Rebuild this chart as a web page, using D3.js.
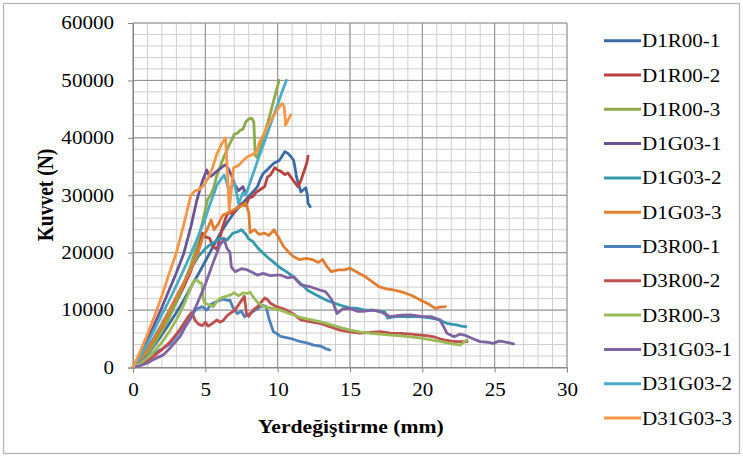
<!DOCTYPE html>
<html>
<head>
<meta charset="utf-8">
<script src="https://cdn.jsdelivr.net/npm/d3@7"></script>
<style>
  body { margin: 0; background: #fff; }
</style>
</head>
<body>
<div id="chart"></div>
<script>
// data: [yerdegistirme mm, kuvvet N]
var seriesNames = ["D1R00-1", "D1R00-2", "D1R00-3", "D1G03-1", "D1G03-2", "D1G03-3",
                   "D3R00-1", "D3R00-2", "D3R00-3", "D31G03-1", "D31G03-2", "D31G03-3"];

var d1r00_1 = [[0,0],[0.5,900],[1,2300],[1.5,3900],[2,5700],[2.5,7600],[3,9600],[3.5,11700],[4,14000],[4.5,16200],[5,18500],[5.5,20900],[6,23200],[6.5,25200],[7,27000],[7.5,28400],[8,29800],[8.3,30600],[8.6,31500],[8.8,32800],[9,33800],[9.3,34500],[9.5,35000],[9.7,35500],[9.9,35800],[10.1,36000],[10.3,36800],[10.5,37600],[10.7,37300],[10.9,36800],[11.1,36100],[11.2,34800],[11.3,33200],[11.5,31500],[11.6,30600],[11.8,31000],[11.95,31300],[12.05,30000],[12.1,28600],[12.25,28000]];
var d1r00_2 = [[0,0],[0.5,1100],[1,2700],[1.5,4600],[2,6700],[2.5,9000],[3,11400],[3.5,14000],[4,16800],[4.3,19200],[4.6,22000],[4.8,23400],[5.0,22800],[5.3,22500],[5.5,21200],[5.8,20500],[6.0,22500],[6.2,24500],[6.4,26000],[6.6,27000],[6.9,26800],[7.2,27800],[7.5,28500],[7.8,28200],[8.0,29500],[8.3,29800],[8.5,30500],[8.8,31000],[9.1,31500],[9.3,33200],[9.5,33500],[9.8,34800],[10.0,34400],[10.2,34200],[10.5,33600],[10.7,33900],[10.9,33200],[11.1,32500],[11.4,31500],[11.6,32500],[11.8,34000],[12.0,35500],[12.1,36800]];
var d1r00_3 = [[0,0],[0.5,1000],[1,2400],[1.5,4200],[2,6300],[2.5,8700],[3,11400],[3.5,14500],[4,17800],[4.4,21200],[4.8,25300],[5.15,29200],[5.4,30200],[5.6,31500],[5.8,33500],[6.1,35500],[6.3,36800],[6.6,38500],[6.8,39500],[7.0,40600],[7.2,40800],[7.4,41300],[7.6,41500],[7.8,42800],[8.0,43300],[8.2,43400],[8.35,42800],[8.45,37000],[8.6,36500],[8.8,38200],[9.0,40000],[9.3,42500],[9.5,44300],[9.8,47200],[10.1,50000]];
var d1g03_1 = [[0,0],[0.5,1900],[1,4800],[1.5,7600],[2,10500],[2.5,13500],[3,16500],[3.5,19800],[4,24500],[4.4,29000],[4.8,32500],[5.1,34400],[5.3,33200],[5.5,33500],[5.7,34000],[5.9,34400],[6.2,35000],[6.4,35300],[6.6,34600],[6.8,33500],[7.0,32000],[7.3,30800],[7.6,31500],[7.8,30200]];
var d1g03_2 = [[0,0],[0.5,1400],[1,3300],[1.5,5400],[2,7600],[2.5,9900],[3,12300],[3.5,14700],[4,17200],[4.5,19300],[5,20700],[5.3,21300],[5.6,21800],[5.9,22300],[6.25,22500],[6.5,22200],[6.9,23400],[7.2,23600],[7.5,24000],[7.8,23200],[8.0,22400],[8.3,21900],[8.6,20900],[9.0,19900],[9.3,19200],[9.7,18400],[10.1,17500],[10.6,16700],[11.1,15800],[11.6,14600],[12.1,13400],[12.7,12600],[13.3,11800],[13.9,11200],[14.4,10800],[15.0,10400],[15.5,10300],[16.0,10000],[16.5,10000],[17.1,9800],[17.4,9700],[17.6,8600],[18.0,8800],[18.5,8900],[19.0,8800],[19.5,8900],[19.9,8800],[20.4,8700],[20.8,8500],[21.2,8300],[21.5,7900],[21.7,7700],[22.1,7500],[22.4,7400],[22.7,7200],[23.0,7100]];
var d1g03_3 = [[0,0],[0.5,1300],[1,3100],[1.5,5200],[2,7400],[2.5,9800],[3,12300],[3.5,14700],[4,17100],[4.5,20000],[4.8,22500],[5.1,23900],[5.4,25700],[5.6,24000],[5.9,25000],[6.2,26500],[6.6,27000],[7.0,27500],[7.4,28000],[7.8,28600],[8.0,27000],[8.1,23500],[8.4,24000],[8.7,23200],[9.1,23400],[9.4,23000],[9.75,24000],[10.1,22500],[10.4,21100],[10.8,20000],[11.1,19300],[11.5,18800],[12.0,19000],[12.4,18800],[12.8,18300],[13.1,18800],[13.4,17600],[13.7,16700],[14.2,17000],[14.6,17000],[15.0,17300],[15.5,16600],[16.0,15900],[16.5,15000],[17.0,14100],[17.5,13700],[18.0,13500],[18.5,13200],[18.9,12900],[19.3,12500],[19.6,12100],[20.0,11600],[20.4,11100],[20.9,10300],[21.2,10500],[21.6,10600]];
var d3r00_1 = [[0,0],[0.4,600],[0.8,1500],[1.2,2300],[1.6,2700],[2.0,3200],[2.5,4000],[3.0,5500],[3.5,7300],[4.0,9000],[4.4,10200],[4.8,10600],[5.1,10000],[5.4,11000],[5.8,11500],[6.2,11900],[6.5,11700],[6.7,11750],[6.9,10500],[7.2,9400],[7.5,9800],[7.7,8850],[8.0,9300],[8.4,9900],[8.7,10400],[9.0,10800],[9.2,10600],[9.4,8500],[9.7,6250],[10.0,5800],[10.2,5400],[10.6,5200],[11.0,5000],[11.3,4700],[11.6,4500],[12.0,4300],[12.5,3900],[13.0,3700],[13.3,3300],[13.6,3050]];
var d3r00_2 = [[0,0],[0.5,500],[1,1200],[1.5,2100],[2,3100],[2.5,4300],[3,5800],[3.5,7600],[3.8,8800],[4.06,9600],[4.3,8200],[4.5,7600],[4.8,7300],[5.0,7900],[5.2,7200],[5.5,7700],[5.8,8300],[6.0,7900],[6.2,8100],[6.5,9000],[6.7,9400],[7.05,10000],[7.4,11300],[7.7,12400],[7.85,9300],[8.0,8900],[8.3,10000],[8.6,10600],[8.8,11200],[9.1,12100],[9.3,11800],[9.5,11200],[9.9,10600],[10.3,10300],[10.6,10000],[11.1,9300],[11.6,8300],[12.2,8000],[12.9,7700],[13.6,7100],[14.3,6500],[15.0,6200],[15.7,6000],[16.4,6100],[17.1,6250],[17.8,6000],[18.5,5950],[19.2,5800],[19.9,5650],[20.4,5500],[20.8,5350],[21.2,5000],[21.5,4800],[22.0,4600],[22.4,4500],[23.1,4500]];
var d3r00_3 = [[0,0],[0.5,700],[1,1700],[1.5,2900],[2,4400],[2.5,6200],[3,8300],[3.5,10800],[3.9,13300],[4.2,15000],[4.4,15300],[4.6,14800],[4.75,14700],[4.85,12000],[4.95,11200],[5.2,11000],[5.55,10600],[5.8,11500],[6.0,12000],[6.3,12300],[6.7,12600],[7.0,13000],[7.3,12500],[7.6,13000],[7.9,12900],[8.1,13100],[8.3,12300],[8.6,11400],[9.0,10600],[9.5,10400],[10.2,10000],[10.8,9400],[11.6,8700],[12.2,8400],[12.9,8000],[13.6,7500],[14.3,7000],[15.0,6500],[15.7,6200],[16.4,5950],[17.1,5800],[17.8,5650],[18.5,5500],[19.2,5350],[19.9,5100],[20.6,4800],[21.3,4500],[21.9,4200],[22.6,3900],[23.1,4800]];
var d31g03_1 = [[0,0],[0.5,300],[1,800],[1.5,1500],[2.1,2200],[2.6,3500],[3.25,5400],[3.6,7000],[4.06,8900],[4.5,11500],[5,14500],[5.5,18000],[6.0,21300],[6.3,22300],[6.5,20700],[6.7,20100],[6.8,17500],[7.06,16700],[7.5,17200],[7.9,17000],[8.3,16500],[8.6,16100],[9,16400],[9.5,16000],[9.9,16100],[10.2,16100],[10.7,15600],[11.1,15800],[11.6,14400],[12.2,14100],[12.9,13500],[13.3,13200],[13.6,12300],[13.8,11500],[14.1,9400],[14.5,10200],[15,10300],[15.5,9800],[16,9800],[16.6,10000],[17.1,9700],[17.8,8850],[18.5,9100],[19.2,9150],[19.9,8900],[20.6,8850],[21.2,8300],[21.5,7000],[21.7,5950],[22.2,5350],[22.6,5800],[22.9,5650],[23.5,5000],[24,4500],[24.5,4400],[24.9,4200],[25.3,4600],[25.6,4500],[26.0,4300],[26.3,4100]];
var d31g03_2 = [[0,0],[0.5,1900],[1,4200],[1.5,6700],[2,9200],[2.5,11700],[3,14300],[3.5,17000],[4,19800],[4.5,22800],[5,26000],[5.3,28300],[5.6,30300],[5.8,31800],[6.0,32500],[6.3,33500],[6.45,32500],[6.6,31000],[6.8,31500],[7.0,32000],[7.15,30500],[7.3,28500],[7.45,29500],[7.6,30500],[7.75,30000],[7.9,30800],[8.2,33000],[8.5,35200],[9.0,38700],[9.5,42300],[10.0,45800],[10.3,48000],[10.6,50000]];
var d31g03_3 = [[0,0],[0.5,2800],[1,5800],[1.5,9000],[2,12500],[2.56,16800],[3,20000],[3.5,24800],[4.0,30000],[4.3,30800],[4.6,31000],[4.9,31800],[5.2,33000],[5.5,34800],[5.8,37200],[6.1,38800],[6.4,40000],[6.55,33000],[6.65,27500],[6.8,31000],[6.95,34800],[7.3,35200],[7.6,36000],[7.9,36700],[8.2,37000],[8.5,37500],[8.8,39500],[9.1,41000],[9.4,42500],[9.7,43800],[10.0,45000],[10.3,46000],[10.45,45500],[10.55,42200],[10.7,43000],[10.9,44000]];

var seriesData = [d1r00_1, d1r00_2, d1r00_3, d1g03_1, d1g03_2, d1g03_3,
                  d3r00_1, d3r00_2, d3r00_3, d31g03_1, d31g03_2, d31g03_3];

var xTicks = [0, 5, 10, 15, 20, 25, 30];
var yTicks = [0, 10000, 20000, 30000, 40000, 50000, 60000];

// styles
var colors = ["#3C6BA4", "#B8423F", "#8DAA4C", "#6C5392", "#3598AD", "#E07E31",
              "#4F81BD", "#C0504D", "#9BBB59", "#8064A2", "#4BACC6", "#F79646"];
var serif = "Liberation Serif"; // one name only
var stretch = 1.17; // the picture is a bit wider than tall

// widen a text by stretching its glyphs (no transform)
function widen(sel) {
    sel.each(function() {
        var w = this.getComputedTextLength();
        d3.select(this).attr("textLength", w * stretch).attr("lengthAdjust", "spacingAndGlyphs");
    });
}

var svgWidth = 743, svgHeight = 457;
var svg = d3.select("#chart").append("svg")
    .attr("width", svgWidth)
    .attr("height", svgHeight)
    .attr("font-family", serif);

svg.append("rect")
    .attr("x", 3.5).attr("y", 3.5)
    .attr("width", 736).attr("height", 450)
    .attr("fill", "#fff")
    .attr("stroke", "#b4b4b4")
    .attr("stroke-width", 1.2);

var x = d3.scaleLinear().domain([0, 30]).range([133, 567]);
var y = d3.scaleLinear().domain([0, 60000]).range([367.5, 23]);

// gridlines
var grid = svg.append("g");
grid.selectAll("line.minx").data(d3.range(0, 31, 1)).enter().append("line")
    .attr("x1", d => x(d)).attr("x2", d => x(d))
    .attr("y1", y(0)).attr("y2", y(60000))
    .attr("stroke", "#cfcfcf").attr("stroke-width", 1);
grid.selectAll("line.miny").data(d3.range(0, 60001, 2000)).enter().append("line")
    .attr("y1", d => y(d)).attr("y2", d => y(d))
    .attr("x1", x(0)).attr("x2", x(30))
    .attr("stroke", "#cfcfcf").attr("stroke-width", 1);
grid.selectAll("line.majx").data(xTicks).enter().append("line")
    .attr("x1", d => x(d)).attr("x2", d => x(d))
    .attr("y1", y(0)).attr("y2", y(60000))
    .attr("stroke", "#8e8e8e").attr("stroke-width", 1);
grid.selectAll("line.majy").data(yTicks).enter().append("line")
    .attr("y1", d => y(d)).attr("y2", d => y(d))
    .attr("x1", x(0)).attr("x2", x(30))
    .attr("stroke", "#8e8e8e").attr("stroke-width", 1);

// axes
var xAxis = svg.append("g")
    .attr("transform", `translate(0, ${y(0)})`)
    .call(d3.axisBottom(x).tickValues(xTicks).tickSize(5).tickPadding(11));
var yAxis = svg.append("g")
    .attr("transform", `translate(${x(0)}, 0)`)
    .call(d3.axisLeft(y).tickValues(yTicks).tickSize(5).tickPadding(14).tickFormat(d3.format("d")));

[xAxis, yAxis].forEach(function(ax) {
    ax.attr("font-family", serif).attr("font-size", 18);
    ax.select(".domain").attr("stroke", "#868686");
    ax.selectAll(".tick line").attr("stroke", "#868686");
    ax.selectAll("text").attr("fill", "#000").attr("font-family", serif).call(widen);
});

// lines
var line = d3.line().x(d => x(d[0])).y(d => y(d[1]));
svg.append("g").selectAll("path").data(seriesData).enter().append("path")
    .attr("d", line)
    .attr("fill", "none")
    .attr("stroke", (d, i) => colors[i])
    .attr("stroke-width", 2.8)
    .attr("stroke-linejoin", "round")
    .attr("stroke-linecap", "round");

// axis titles
svg.append("text")
    .attr("x", 351).attr("y", 433)
    .attr("text-anchor", "middle")
    .attr("font-family", serif)
    .attr("font-size", 18.5)
    .attr("font-weight", "bold")
    .text("Yerdeğiştirme (mm)")
    .call(widen);

svg.append("g")
    .attr("transform", `translate(53, 195) scale(${stretch},1) rotate(-90)`)
    .append("text")
    .attr("text-anchor", "middle")
    .attr("font-family", serif)
    .attr("font-size", 19.5)
    .attr("font-weight", "bold")
    .text("Kuvvet (N)");

// legend
var legend = svg.append("g").selectAll("g").data(seriesNames).enter().append("g")
    .attr("transform", (d, i) => `translate(0, ${40.7 + i * 34.3})`);
legend.append("line")
    .attr("x1", 604).attr("x2", 641)
    .attr("y1", 0).attr("y2", 0)
    .attr("stroke", (d, i) => colors[i])
    .attr("stroke-width", 3);
legend.append("text")
    .attr("x", 642).attr("y", 6.5)
    .attr("font-family", serif)
    .attr("font-size", 18)
    .text(d => d)
    .call(widen);
</script>
</body>
</html>
